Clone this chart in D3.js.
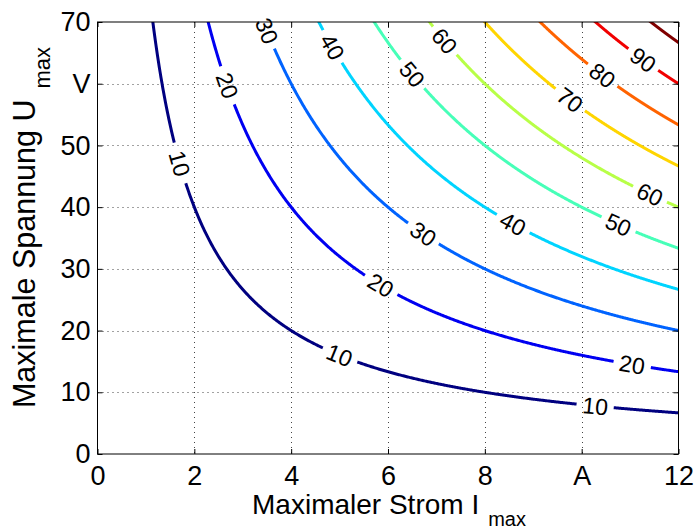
<!DOCTYPE html>
<html>
<head>
<meta charset="utf-8">
<script src="https://cdn.jsdelivr.net/npm/d3@7"></script>
<style>
  html, body { margin: 0; padding: 0; background: #fff; }
  svg { display: block; font-family: "Liberation Sans", Arial, Helvetica, sans-serif; }
</style>
</head>
<body>
<svg id="chart" width="695" height="531"></svg>
<script>
// Axis ranges and tick labels
const currentRange = [0, 12];
const voltageRange = [0, 70];
const xTicks = [0, 2, 4, 6, 8, 10, 12];
const xTickLabels = ["0", "2", "4", "6", "8", "A", "12"];
const yTicks = [0, 10, 20, 30, 40, 50, 60, 70];
const yTickLabels = ["0", "10", "20", "30", "40", "50", "V", "70"];

// Contour levels of the field z = U * I / divisor
const fieldDivisor = 8;
const levels = [10, 20, 30, 40, 50, 60, 70, 80, 90, 100];

// Inline contour labels: level and the current I where the label sits
const labelLevels  = [10,   10,  10,    20,   20,   20,    30,  30,   40,   40,   50,  50,    60,   60,    70,   80,    90];
const labelCurrent = [1.70, 5.0, 10.28, 2.68, 5.85, 11.04, 3.5, 6.73, 4.85, 8.58, 6.5, 10.76, 7.17, 11.41, 9.76, 10.43, 11.27];

const svg = d3.select("#chart");
const plot = { left: 97.5, right: 678.5, top: 22, bottom: 454 };

const x = d3.scaleLinear().domain(currentRange).range([plot.left, plot.right]);
const y = d3.scaleLinear().domain(voltageRange).range([plot.bottom, plot.top]);

// MATLAB-style jet colormap
function jet(t) {
  const c = v => Math.max(0, Math.min(1, v));
  const r = c(1.5 - Math.abs(4 * t - 3));
  const g = c(1.5 - Math.abs(4 * t - 2));
  const b = c(1.5 - Math.abs(4 * t - 1));
  return d3.rgb(r * 255, g * 255, b * 255).toString();
}
const colorOf = d3.scaleLinear().domain([d3.min(levels), d3.max(levels)]).range([0, 1]);

// Dotted grid
const grid = svg.append("g").attr("stroke", "#444").attr("stroke-width", 1)
  .attr("stroke-dasharray", "1,4").attr("fill", "none");
grid.selectAll("line.gx").data(xTicks.filter(v => v > currentRange[0] && v < currentRange[1]))
  .join("line").attr("class", "gx")
  .attr("x1", d => Math.round(x(d)) + 0.5).attr("x2", d => Math.round(x(d)) + 0.5)
  .attr("y1", plot.top).attr("y2", plot.bottom);
grid.selectAll("line.gy").data(yTicks.filter(v => v > voltageRange[0] && v < voltageRange[1]))
  .join("line").attr("class", "gy")
  .attr("x1", plot.left).attr("x2", plot.right)
  .attr("y1", d => Math.round(y(d)) + 0.5).attr("y2", d => Math.round(y(d)) + 0.5);

// Clip region for contour lines
svg.append("clipPath").attr("id", "plotClip").append("rect")
  .attr("x", plot.left).attr("y", plot.top)
  .attr("width", plot.right - plot.left).attr("height", plot.bottom - plot.top);

const labelFont = 23;
const labels = labelLevels.map((L, i) => {
  const I0 = labelCurrent[i];
  const U0 = fieldDivisor * L / I0;
  const cx = x(I0), cy = y(U0);
  // slope of the isoline in pixel space
  const dI = 0.001;
  const px2 = x(I0 + dI), py2 = y(fieldDivisor * L / (I0 + dI));
  const angle = Math.atan2(py2 - cy, px2 - cx) * 180 / Math.PI;
  const text = String(L);
  const halfGap = text.length * 0.556 * labelFont / 2 + 5.5;
  return { L, cx, cy, angle, text, halfGap };
});

const line = d3.line().x(d => d[0]).y(d => d[1]);
const contourG = svg.append("g").attr("clip-path", "url(#plotClip)")
  .attr("fill", "none").attr("stroke-width", 3).attr("stroke-linecap", "butt");

levels.forEach(L => {
  const iStart = Math.max(currentRange[0], fieldDivisor * L / voltageRange[1]) - 0.05;
  const n = 600;
  const pts = d3.range(n + 1).map(k => {
    const I = iStart + (currentRange[1] + 0.05 - iStart) * k / n;
    return [x(I), y(fieldDivisor * L / I), I];
  });
  const myLabels = labels.filter(l => l.L === L);
  const segments = [];
  let cur = [];
  pts.forEach(p => {
    const hidden = myLabels.some(l => Math.hypot(p[0] - l.cx, p[1] - l.cy) < l.halfGap);
    if (hidden) { if (cur.length > 1) segments.push(cur); cur = []; }
    else cur.push(p);
  });
  if (cur.length > 1) segments.push(cur);
  contourG.selectAll(null).data(segments).join("path")
    .attr("d", line).attr("stroke", jet(colorOf(L)));
});

// Contour labels
svg.append("g").selectAll("text").data(labels).join("text")
  .attr("transform", d => `translate(${d.cx},${d.cy}) rotate(${d.angle})`)
  .attr("text-anchor", "middle").attr("dy", "0.36em")
  .attr("font-size", labelFont).attr("fill", "#000")
  .text(d => d.text);

// Axes: ticks pointing inward on all four sides
const tickFont = 27;
const fmtX = d => xTickLabels[xTicks.indexOf(d)];
const fmtY = d => yTickLabels[yTicks.indexOf(d)];

const axB = svg.append("g").attr("transform", `translate(0,${plot.bottom})`)
  .call(d3.axisBottom(x).tickValues(xTicks).tickFormat(fmtX).tickSize(-5).tickPadding(11.5));
const axL = svg.append("g").attr("transform", `translate(${plot.left},0)`)
  .call(d3.axisLeft(y).tickValues(yTicks).tickFormat(fmtY).tickSize(-5).tickPadding(7));
const axT = svg.append("g").attr("transform", `translate(0,${plot.top})`)
  .call(d3.axisTop(x).tickValues(xTicks).tickFormat("").tickSize(-5));
const axR = svg.append("g").attr("transform", `translate(${plot.right},0)`)
  .call(d3.axisRight(y).tickValues(yTicks).tickFormat("").tickSize(-5));
[axB, axL, axT, axR].forEach(a => {
  a.select(".domain").remove();
  a.selectAll("text").attr("font-size", tickFont).attr("font-family", "Liberation Sans, Arial, sans-serif").attr("fill", "#000");
  a.selectAll("line").attr("stroke", "#000");
});

// Axes box
svg.append("rect").attr("x", plot.left).attr("y", plot.top)
  .attr("width", plot.right - plot.left).attr("height", plot.bottom - plot.top)
  .attr("fill", "none").attr("stroke", "#000").attr("stroke-width", 1);

// Axis titles with subscripts
const xTitle = svg.append("text").attr("x", 389).attr("y", 514)
  .attr("text-anchor", "middle").attr("font-size", 28).attr("fill", "#000");
xTitle.append("tspan").text("Maximaler Strom I");
xTitle.append("tspan").attr("dx", 9).attr("dy", 11.5).attr("font-size", 20).text("max");

const yTitle = svg.append("text")
  .attr("transform", `translate(35,227.5) rotate(-90)`)
  .attr("text-anchor", "middle").attr("font-size", 30.5).attr("fill", "#000");
yTitle.append("tspan").text("Maximale Spannung U");
yTitle.append("tspan").attr("dx", 11).attr("dy", 15).attr("font-size", 22).text("max");
</script>
</body>
</html>
